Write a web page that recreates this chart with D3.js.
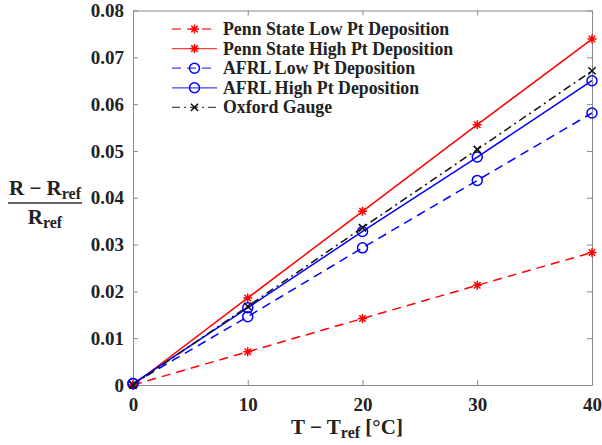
<!DOCTYPE html>
<html>
<head>
<meta charset="utf-8">
<script src="https://cdn.jsdelivr.net/npm/d3@7"></script>
<style>
  body { margin: 0; background: #fff; }
  svg { display: block; }
  text { font-family: "Liberation Serif", "Times New Roman", serif; font-weight: bold; fill: #222; }
</style>
</head>
<body>
<svg id="chart" width="602" height="445"></svg>
<script>
// Temperature offsets (°C)
const temps = [0, 10, 20, 30, 40];

// Normalized resistance change (R - Rref)/Rref for each sensor
const pennStateLow  = [0, 0.0071, 0.0142, 0.0213, 0.0283];
const pennStateHigh = [0, 0.0186, 0.0371, 0.0556, 0.0739];
const afrlLow       = [0.0003, 0.0146, 0.0293, 0.0437, 0.0581];
const afrlHigh      = [0.0003, 0.0165, 0.0328, 0.0487, 0.0650];
const oxfordGauge   = [0, 0.0168, 0.0336, 0.0503, 0.0671];

const xTicks = [0, 10, 20, 30, 40];
const yTicks = [0, 0.01, 0.02, 0.03, 0.04, 0.05, 0.06, 0.07, 0.08];

const seriesNames = [
  "Penn State Low Pt Deposition",
  "Penn State High Pt Deposition",
  "AFRL Low Pt Deposition",
  "AFRL High Pt Deposition",
  "Oxford Gauge"
];

const series = [
  { name: seriesNames[0], values: pennStateLow,  color: "#ff0000", dash: "9,6",     marker: "star" },
  { name: seriesNames[1], values: pennStateHigh, color: "#ff0000", dash: null,      marker: "star" },
  { name: seriesNames[2], values: afrlLow,       color: "#0000ff", dash: "9,6",     marker: "circle" },
  { name: seriesNames[3], values: afrlHigh,      color: "#0000ff", dash: null,      marker: "circle" },
  { name: seriesNames[4], values: oxfordGauge,   color: "#111111", dash: "8,4,2,4", marker: "cross" }
];

const svg = d3.select("#chart");
const margin = { left: 133, right: 10, top: 10.5, bottom: 60 };
const W = 602, H = 445;
const x = d3.scaleLinear().domain([0, 40]).range([margin.left, W - margin.right]);
const y = d3.scaleLinear().domain([0, 0.08]).range([H - margin.bottom, margin.top]);

const axisColor = "#8a8a8a";
const tickLen = 5;

// Bottom axis with labels
const gx = svg.append("g").attr("transform", `translate(0,${y(0)})`)
  .call(d3.axisBottom(x).tickValues(xTicks).tickSizeInner(-tickLen).tickSizeOuter(0).tickPadding(13)
    .tickFormat(d3.format("d")));
// Top axis (mirrored ticks)
const gxt = svg.append("g").attr("transform", `translate(0,${y(0.08)})`)
  .call(d3.axisTop(x).tickValues(xTicks).tickSizeInner(-tickLen).tickSizeOuter(0).tickFormat(""));
// Left axis with labels
const gy = svg.append("g").attr("transform", `translate(${x(0)},0)`)
  .call(d3.axisLeft(y).tickValues(yTicks).tickSizeInner(-tickLen).tickSizeOuter(0).tickPadding(9)
    .tickFormat(d => d === 0 ? "0" : d3.format(".2f")(d)));
// Right axis (mirrored ticks)
const gyr = svg.append("g").attr("transform", `translate(${x(40)},0)`)
  .call(d3.axisRight(y).tickValues(yTicks).tickSizeInner(-tickLen).tickSizeOuter(0).tickFormat(""));

[gx, gxt, gy, gyr].forEach(g => {
  g.select(".domain").attr("stroke", axisColor).attr("stroke-width", 1);
  g.selectAll(".tick line").attr("stroke", axisColor);
  g.selectAll(".tick text").attr("font-size", 19)
    .attr("font-family", "Liberation Serif, Times New Roman, serif")
    .attr("font-weight", "bold").attr("fill", "#222");
});

// Lines
const line = d3.line().x((d, i) => x(temps[i])).y(d => y(d));
const plot = svg.append("g");

function drawMarker(g, type, cx, cy, color) {
  if (type === "star") {
    const r = 4.5;
    const p = d3.path();
    p.moveTo(cx - r, cy); p.lineTo(cx + r, cy);
    p.moveTo(cx, cy - r); p.lineTo(cx, cy + r);
    const d = r * 0.72;
    p.moveTo(cx - d, cy - d); p.lineTo(cx + d, cy + d);
    p.moveTo(cx - d, cy + d); p.lineTo(cx + d, cy - d);
    g.append("path").attr("d", p.toString()).attr("stroke", color).attr("stroke-width", 1.5).attr("fill", "none");
  } else if (type === "circle") {
    g.append("circle").attr("cx", cx).attr("cy", cy).attr("r", 5)
      .attr("stroke", color).attr("stroke-width", 1.5).attr("fill", "none");
  } else if (type === "cross") {
    const r = 3.6;
    const p = d3.path();
    p.moveTo(cx - r, cy - r); p.lineTo(cx + r, cy + r);
    p.moveTo(cx - r, cy + r); p.lineTo(cx + r, cy - r);
    g.append("path").attr("d", p.toString()).attr("stroke", color).attr("stroke-width", 1.6).attr("fill", "none");
  }
}

series.forEach(s => {
  plot.append("path").datum(s.values)
    .attr("d", line)
    .attr("fill", "none")
    .attr("stroke", s.color)
    .attr("stroke-width", 1.5)
    .attr("stroke-dasharray", s.dash);
  s.values.forEach((v, i) => drawMarker(plot, s.marker, x(temps[i]), y(v), s.color));
});

// Legend
const legend = svg.append("g");
const legY0 = 29, legStep = 19.6;
series.forEach((s, i) => {
  const ly = legY0 + i * legStep;
  legend.append("line").attr("x1", 172).attr("x2", 217).attr("y1", ly).attr("y2", ly)
    .attr("stroke", s.color).attr("stroke-width", 1.3).attr("stroke-opacity", 0.75)
    .attr("stroke-dasharray", s.dash);
  drawMarker(legend, s.marker, 194.5, ly, s.color);
  legend.append("text").attr("x", 223).attr("y", ly + 6).attr("font-size", 17.8).text(s.name);
});

// Y axis label as a fraction
const yl = svg.append("g");
const ylNum = yl.append("text").attr("x", 45).attr("y", 195).attr("text-anchor", "middle").attr("font-size", 21);
ylNum.append("tspan").text("R − R");
ylNum.append("tspan").attr("font-size", 16).attr("dy", 4).text("ref");
yl.append("line").attr("x1", 8).attr("x2", 82).attr("y1", 203).attr("y2", 203)
  .attr("stroke", "#333").attr("stroke-width", 1.6);
const ylDen = yl.append("text").attr("x", 45).attr("y", 224).attr("text-anchor", "middle").attr("font-size", 21);
ylDen.append("tspan").text("R");
ylDen.append("tspan").attr("font-size", 16).attr("dy", 4).text("ref");

// X axis label
const xl = svg.append("text").attr("x", 347).attr("y", 434).attr("text-anchor", "middle").attr("font-size", 21);
xl.append("tspan").text("T − T");
xl.append("tspan").attr("font-size", 16).attr("dy", 4).text("ref");
xl.append("tspan").attr("dy", -4).text(" [°C]");
</script>
</body>
</html>
